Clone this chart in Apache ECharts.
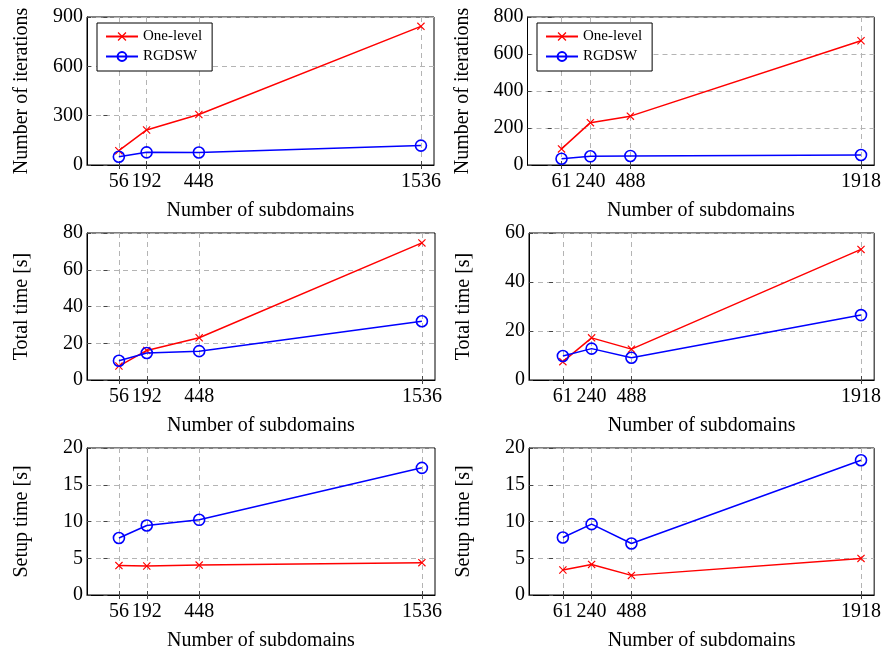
<!DOCTYPE html>
<html><head><meta charset="utf-8">
<script src="https://cdn.jsdelivr.net/npm/echarts@6/dist/echarts.min.js"></script>
<style>html,body{margin:0;padding:0;background:#fff}#c{width:884px;height:654px}</style>
</head><body><div id="c"></div>
<script>
const xLeft = [56, 192, 448, 1536];
const xRight = [61, 240, 488, 1918];
const seriesNames = ['One-level', 'RGDSW'];

const iterLeftOne = [87, 213, 307, 843];
const iterLeftRG = [50, 77, 76, 118];
const iterRightOne = [87, 229, 264, 672];
const iterRightRG = [34, 47, 49, 54];

const totalLeftOne = [7.6, 16.1, 23.0, 74.6];
const totalLeftRG = [10.5, 14.7, 15.7, 32.0];
const totalRightOne = [7.5, 17.2, 12.6, 53.3];
const totalRightRG = [9.8, 12.8, 9.1, 26.5];

const setupLeftOne = [4.0, 3.95, 4.07, 4.4];
const setupLeftRG = [7.75, 9.46, 10.23, 17.3];
const setupRightOne = [3.4, 4.16, 2.67, 4.98];
const setupRightRG = [7.83, 9.64, 7.01, 18.33];

const yTitles = ['Number of iterations', 'Number of iterations', 'Total time [s]', 'Total time [s]', 'Setup time [s]', 'Setup time [s]'];
const xTitle = 'Number of subdomains';
const yMax = [900, 800, 80, 60, 20, 20];
const yStep = [300, 200, 20, 20, 5, 5];

const FONT = '"Liberation Serif", "DejaVu Serif", serif';
const RED = '#ff0000', BLUE = '#0000ff';
const XSYM = 'path://M0,1L1,0L5,4L9,0L10,1L6,5L10,9L9,10L5,6L1,10L0,9L4,5Z';

const panels = [
  { xs: xLeft, one: iterLeftOne, rg: iterLeftRG },
  { xs: xRight, one: iterRightOne, rg: iterRightRG },
  { xs: xLeft, one: totalLeftOne, rg: totalLeftRG },
  { xs: xRight, one: totalRightOne, rg: totalRightRG },
  { xs: xLeft, one: setupLeftOne, rg: setupLeftRG },
  { xs: xRight, one: setupRightOne, rg: setupRightRG }
];
const gridPos = [
  { left: 87, top: 17, width: 347, height: 148 },
  { left: 527.5, top: 17, width: 347, height: 148 },
  { left: 87, top: 233, width: 348, height: 147 },
  { left: 529, top: 233, width: 347, height: 147 },
  { left: 87, top: 448, width: 348, height: 147 },
  { left: 529, top: 448, width: 347, height: 147 }
];
const xRange = [[-100, 1600], [-150, 2000]];

const grid = [], xAxis = [], yAxis = [], series = [];
panels.forEach((p, i) => {
  const side = i % 2;
  grid.push(Object.assign({ show: true, borderColor: '#000', borderWidth: 1, backgroundColor: 'transparent' }, gridPos[i]));
  xAxis.push({
    type: 'value', gridIndex: i, min: xRange[side][0], max: xRange[side][1],
    name: xTitle, nameLocation: 'middle', nameGap: 36,
    nameTextStyle: { fontFamily: FONT, fontSize: 20, color: '#000' },
    axisLine: { show: true, onZero: false, lineStyle: { color: '#000', width: 1 } },
    axisTick: { show: true, inside: true, length: 4, customValues: p.xs, lineStyle: { color: '#444' } },
    axisLabel: { customValues: p.xs, margin: 7, fontFamily: FONT, fontSize: 20, color: '#000', formatter: v => String(v) },
    splitLine: { show: true, lineStyle: { color: '#b4b4b4', type: [5, 4], width: 1 } }
  });
  yAxis.push({
    type: 'value', gridIndex: i, min: 0, max: yMax[i], interval: yStep[i],
    name: yTitles[i], nameLocation: 'middle', nameGap: 55,
    nameTextStyle: { fontFamily: FONT, fontSize: 20, color: '#000' },
    axisLine: { show: true, onZero: false, lineStyle: { color: '#000', width: 1 } },
    axisTick: { show: true, inside: true, length: 4, lineStyle: { color: '#444' } },
    axisLabel: { margin: 4, fontFamily: FONT, fontSize: 20, color: '#000' },
    splitLine: { show: true, lineStyle: { color: '#b4b4b4', type: [5, 4], width: 1 } }
  });
  const xi = xAxis.length - 1, yi = yAxis.length - 1;
  xAxis.push({
    type: 'value', gridIndex: i, position: 'top', min: xRange[side][0], max: xRange[side][1],
    axisLine: { show: false }, axisLabel: { show: false }, splitLine: { show: false },
    axisTick: { show: true, inside: true, length: 4, customValues: p.xs, lineStyle: { color: '#444' } }
  });
  yAxis.push({
    type: 'value', gridIndex: i, position: 'right', min: 0, max: yMax[i], interval: yStep[i],
    axisLine: { show: false }, axisLabel: { show: false }, splitLine: { show: false },
    axisTick: { show: true, inside: true, length: 4, lineStyle: { color: '#444' } }
  });
  series.push({
    name: seriesNames[0], type: 'line', xAxisIndex: xi, yAxisIndex: yi,
    data: p.xs.map((x, k) => [x, p.one[k]]),
    symbol: XSYM, symbolSize: 8, showAllSymbol: true,
    lineStyle: { color: RED, width: 1.5 },
    itemStyle: { color: RED, borderWidth: 0 },
    animation: false, silent: true, z: 3
  });
  series.push({
    name: seriesNames[1], type: 'line', xAxisIndex: xi, yAxisIndex: yi,
    data: p.xs.map((x, k) => [x, p.rg[k]]),
    symbol: 'circle', symbolSize: 11, showAllSymbol: true,
    lineStyle: { color: BLUE, width: 1.5 },
    itemStyle: { color: 'rgba(255,255,255,0)', borderColor: BLUE, borderWidth: 1.6 },
    animation: false, silent: true, z: 4
  });
});

const legendBase = {
  orient: 'vertical', data: seriesNames, top: 23,
  borderColor: '#000', borderWidth: 1, borderRadius: 0, backgroundColor: '#fff',
  padding: [6, 10, 7, 8], itemGap: 5, itemWidth: 32, itemHeight: 11,
  textStyle: { fontFamily: FONT, fontSize: 15, lineHeight: 15, color: '#000' },
  selectedMode: false
};
const legend = [
  Object.assign({}, legendBase, { left: 97 }),
  Object.assign({}, legendBase, { left: 537 })
];

const chart = echarts.init(document.getElementById('c'), null, { renderer: 'canvas' });
chart.setOption({ animation: false, grid, xAxis, yAxis, series, legend });
</script></body></html>
